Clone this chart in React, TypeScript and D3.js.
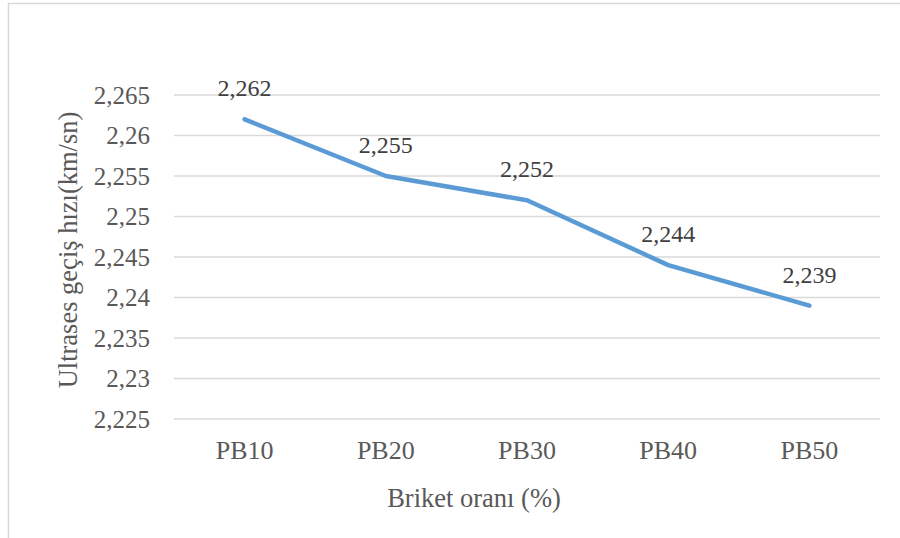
import React from "react";
import * as d3 from "d3";

const categories = ["PB10", "PB20", "PB30", "PB40", "PB50"];
const values = [2.262, 2.255, 2.252, 2.244, 2.239];
const yTicks = [2.225, 2.23, 2.235, 2.24, 2.245, 2.25, 2.255, 2.26, 2.265];
const xTitle = "Briket oranı (%)";
const yTitle = "Ultrases geçiş hızı(km/sn)";

const fmt = (v: number) => String(+v.toFixed(3)).replace(".", ",");

export default function App() {
  const W = 900, H = 538;
  const left = 174, right = 880, top = 95, bottom = 419;
  const x = d3.scaleBand<string>().domain(categories).range([left, right]);
  const y = d3.scaleLinear().domain([2.225, 2.265]).range([bottom, top]);
  const line = d3
    .line<number>()
    .x((_, i) => (x(categories[i]) as number) + x.bandwidth() / 2)
    .y((d) => y(d));
  const font = "'Liberation Serif', 'Times New Roman', serif";
  const textColor = "#595959";
  return (
    <svg
      width={W}
      height={H}
      style={{ position: "absolute", left: 0, top: 0, background: "#fff", fontFamily: font }}
    >
      <rect x={8.5} y={3.5} width={W + 10} height={H + 10} fill="#fff" stroke="#d9d9d9" strokeWidth={1.5} />
      {yTicks.map((t) => (
        <g key={t}>
          <line x1={left} x2={right} y1={y(t)} y2={y(t)} stroke="#d9d9d9" strokeWidth={1.5} />
          <text x={150} y={y(t)} dy="0.35em" textAnchor="end" fontSize={25} fill={textColor}>
            {fmt(t)}
          </text>
        </g>
      ))}
      {categories.map((c) => (
        <text
          key={c}
          x={(x(c) as number) + x.bandwidth() / 2}
          y={459}
          textAnchor="middle"
          fontSize={26}
          fill={textColor}
        >
          {c}
        </text>
      ))}
      <path d={line(values) || ""} fill="none" stroke="#5B9BD5" strokeWidth={4.5} strokeLinejoin="round" strokeLinecap="round" />
      {values.map((v, i) => (
        <text
          key={i}
          x={(x(categories[i]) as number) + x.bandwidth() / 2}
          y={y(v) - 23}
          textAnchor="middle"
          fontSize={24}
          fill="#404040"
        >
          {fmt(v)}
        </text>
      ))}
      <text x={474} y={507} textAnchor="middle" fontSize={26.5} fill={textColor}>
        {xTitle}
      </text>
      <text
        transform={`translate(77, 250) rotate(-90)`}
        textAnchor="middle"
        fontSize={26.5}
        fill={textColor}
      >
        {yTitle}
      </text>
    </svg>
  );
}
